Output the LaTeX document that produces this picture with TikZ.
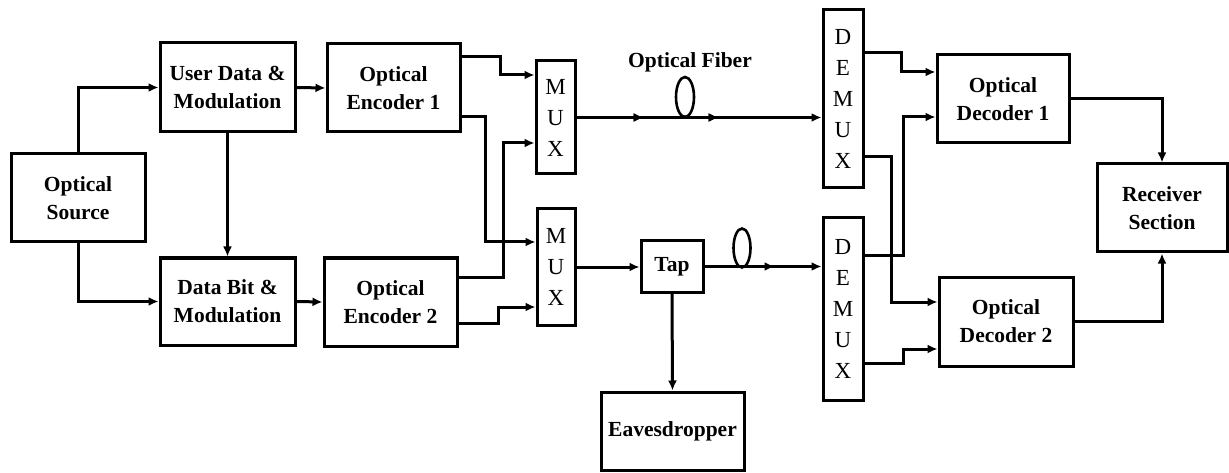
\documentclass[tikz,border=0pt]{standalone}
\usepackage{fontspec}
\setmainfont{Liberation Serif}
\usetikzlibrary{arrows.meta,decorations.markings}
\begin{document}
\begin{tikzpicture}[x=1pt,y=-1pt,
  box/.style={draw,line width=3pt,align=center,inner sep=0pt,
    font=\fontsize{21.5}{28}\selectfont\bfseries},
  mx/.style={draw,line width=3pt,align=center,inner sep=0pt,
    font=\fontsize{23}{31}\selectfont},
  arr/.style={line width=3pt,-{Latex[length=10pt,width=9pt]}},
  ln/.style={line width=2.6pt},
  mid/.style={postaction={decorate},decoration={markings,
    mark=at position #1 with {\arrow{Latex[length=10pt,width=9pt]}}}}
]
\useasboundingbox (0,0) rectangle (1229,473);
\fill[white] (0,0) rectangle (1229,473);

\node[box,minimum width=134pt,minimum height=88pt] (src) at (78,198) {Optical\\Source};
\node[box,minimum width=135pt,minimum height=89pt] (ud) at (227.5,87.5) {User Data \&\\Modulation};
\node[box,minimum width=135pt,minimum height=87pt] (db) at (227.5,301.5) {Data Bit \&\\Modulation};
\node[box,minimum width=133pt,minimum height=88pt] (enc1) at (393.5,88) {Optical\\Encoder 1};
\node[box,minimum width=133pt,minimum height=88pt] (enc2) at (390.5,302) {Optical\\Encoder 2};
\node[mx,minimum width=39pt,minimum height=113pt] (mux1) at (555.5,117.5) {M\\U\\X};
\node[mx,minimum width=38pt,minimum height=116pt] (mux2) at (556,267) {M\\U\\X};
\node[mx,minimum width=40pt,minimum height=178pt] (dmx1) at (843,99) {D\\E\\M\\U\\X};
\node[mx,minimum width=40pt,minimum height=182pt] (dmx2) at (843,309) {D\\E\\M\\U\\X};
\node[box,minimum width=62pt,minimum height=51pt] (tap) at (672,266.5) {Tap};
\node[box,minimum width=143pt,minimum height=78pt] (eav) at (672.5,431) {Eavesdropper};
\node[box,minimum width=132pt,minimum height=88pt] (dec1) at (1003,99) {Optical\\Decoder 1};
\node[box,minimum width=134pt,minimum height=89pt] (dec2) at (1006,321.5) {Optical\\Decoder 2};
\node[box,minimum width=130pt,minimum height=88pt] (rcv) at (1162,208) {Receiver\\Section};
\node[font=\fontsize{21.5}{24}\selectfont\bfseries,inner sep=0pt] (fib) at (690,62) {Optical Fiber};

% source side
\draw[arr] (src.north) |- (ud.west);
\draw[arr] (src.south) |- (db.west);
\draw[arr] (ud.south) -- (db.north);
\draw[arr] (ud.east) -- (enc1.west);
\draw[arr] (db.east) -- (enc2.west);

% encoders to muxes
\draw[arr] (enc1.east|-0,57) -| (500,75) -- (mux1.west|-0,75);
\draw[arr] (enc1.east|-0,117) -| (485,242) -- (mux2.west|-0,242);
\draw[arr] (enc2.east|-0,277) -| (503,143) -- (mux1.west|-0,143);
\draw[arr] (enc2.east|-0,323) -| (498,307) -- (mux2.west|-0,307);

% fiber 1
\draw[arr,mid=67pt,mid=142pt] (mux1.east) -- (dmx1.west|-mux1.east);
\draw[ln] (685,97) ellipse [x radius=9,y radius=20];

% fiber 2 with tap
\draw[arr] (mux2.east) -- (tap.west|-mux2.east);
\draw[arr,mid=70pt] (tap.east) -- (dmx2.west|-tap.east);
\draw[ln] (742,248) ellipse [x radius=8.5,y radius=19.5];
\draw[arr] (tap.south) -- (eav.north);

% demux to decoders
\draw[arr] (dmx1.east|-0,53) -| (901,72) -- (dec1.west|-0,72);
\draw[arr] (dmx1.east|-0,157) -| (891,302) -- (dec2.west|-0,302);
\draw[arr] (dmx2.east|-0,256) -| (903,117) -- (dec1.west|-0,117);
\draw[arr] (dmx2.east|-0,363) -| (903,349) -- (dec2.west|-0,349);

% decoders to receiver
\draw[arr] (dec1.east) -| (rcv.north);
\draw[arr] (dec2.east) -| (rcv.south);
\end{tikzpicture}
\end{document}
